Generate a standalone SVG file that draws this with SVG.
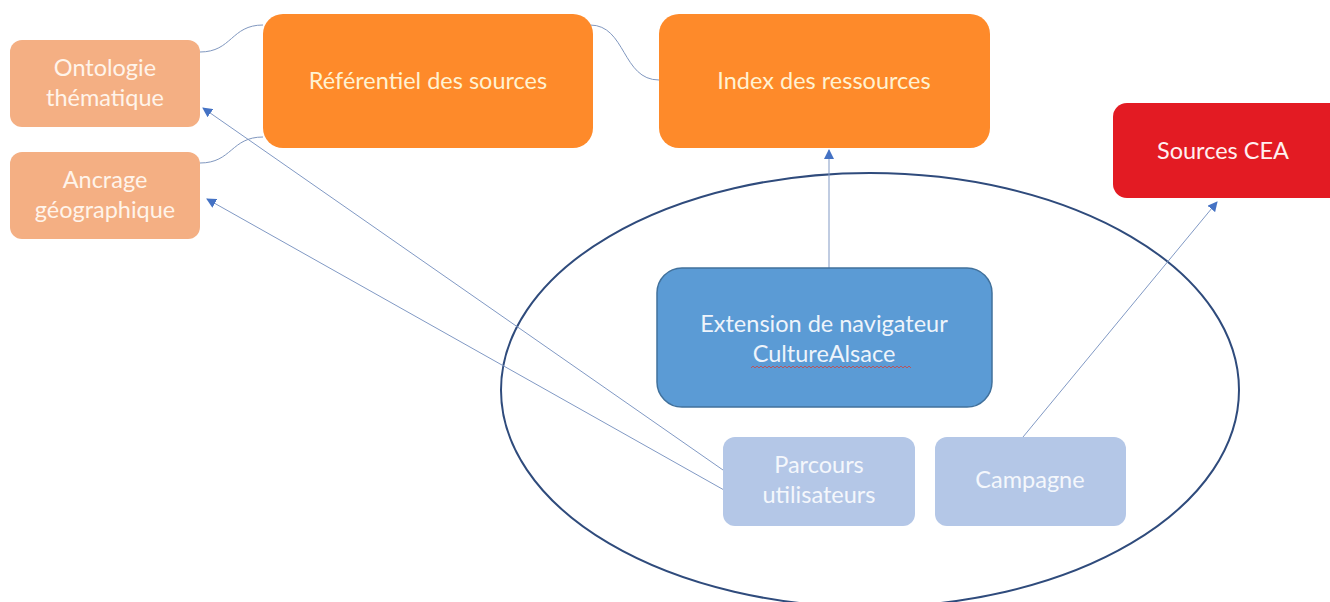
<svg xmlns="http://www.w3.org/2000/svg" width="1330" height="602" viewBox="0 0 1330 602">
<style>
  text { font-family: Lato, "Open Sans", "Liberation Sans", sans-serif; font-size: 23.5px; text-anchor: middle; }
  .lo { fill: #F4AF83; }
  .lo-t { fill: #FFF4EA; }
  .or { fill: #FE8A2A; }
  .or-t { fill: #FFF2D2; }
  .red { fill: #E31B23; }
  .red-t { fill: #FFF0F0; }
  .bl { fill: #5B9BD5; stroke: #41719C; stroke-width: 1.5; }
  .bl-t { fill: #EEF4FB; }
  .lb { fill: #B4C7E7; }
  .lb-t { fill: #F4F7FC; }
  .curve { fill: none; stroke: #8097BF; stroke-width: 1; }
  .arrow { fill: none; stroke: #8199C4; stroke-width: 1; marker-end: url(#ah); }
</style>
<defs>
  <marker id="ah" viewBox="0 0 10 10" refX="9" refY="5" markerWidth="10" markerHeight="10" markerUnits="userSpaceOnUse" orient="auto">
    <path d="M0,0 L10,5 L0,10 z" fill="#4472C4"/>
  </marker>
</defs>

<g id="ellipse">
  <ellipse cx="870" cy="390" rx="369" ry="217" fill="none" stroke="#2F4B7C" stroke-width="2"/>
</g>

<g id="connectors">
  <path class="curve" d="M200,52 C232,52 231,25 263,25"/>
  <path class="curve" d="M200,163 C232,163 231,137 263,137"/>
  <path class="curve" d="M590,25 C626,25 622,80 659,80"/>
  <line class="arrow" x1="829" y1="268" x2="829" y2="150"/>
  <line class="arrow" x1="723" y1="470" x2="203" y2="108"/>
  <line class="arrow" x1="724" y1="490" x2="207" y2="199"/>
  <line class="arrow" x1="1023" y1="437" x2="1217" y2="202"/>
</g>

<g id="ontologie">
  <rect class="lo" x="10" y="40" width="190" height="87" rx="12"/>
  <text class="lo-t" x="105" y="76">Ontologie</text>
  <text class="lo-t" x="105" y="106">thématique</text>
</g>

<g id="ancrage">
  <rect class="lo" x="10" y="152" width="190" height="87" rx="12"/>
  <text class="lo-t" x="105" y="188">Ancrage</text>
  <text class="lo-t" x="105" y="218">géographique</text>
</g>

<g id="referentiel">
  <rect class="or" x="263" y="14" width="330" height="134" rx="20"/>
  <text class="or-t" x="428" y="89">Référentiel des sources</text>
</g>

<g id="index">
  <rect class="or" x="659" y="14" width="331" height="134" rx="20"/>
  <text class="or-t" x="824" y="89">Index des ressources</text>
</g>

<g id="sources-cea">
  <rect class="red" x="1113" y="103" width="230" height="95" rx="14"/>
  <text class="red-t" x="1223" y="159">Sources CEA</text>
</g>

<g id="extension">
  <rect class="bl" x="657" y="268" width="335" height="139" rx="25"/>
  <text class="bl-t" x="824" y="332">Extension de navigateur</text>
  <text class="bl-t" x="824" y="362">CultureAlsace</text>
  <path d="M751,368 l2,-2 l2,2 l2,-2 l2,2 l2,-2 l2,2 l2,-2 l2,2 l2,-2 l2,2 l2,-2 l2,2 l2,-2 l2,2 l2,-2 l2,2 l2,-2 l2,2 l2,-2 l2,2 l2,-2 l2,2 l2,-2 l2,2 l2,-2 l2,2 l2,-2 l2,2 l2,-2 l2,2 l2,-2 l2,2 l2,-2 l2,2 l2,-2 l2,2 l2,-2 l2,2 l2,-2 l2,2 l2,-2 l2,2 l2,-2 l2,2 l2,-2 l2,2 l2,-2 l2,2 l2,-2 l2,2 l2,-2 l2,2 l2,-2 l2,2 l2,-2 l2,2 l2,-2 l2,2 l2,-2 l2,2 l2,-2 l2,2 l2,-2 l2,2 l2,-2 l2,2 l2,-2 l2,2 l2,-2 l2,2 l2,-2 l2,2 l2,-2 l2,2 l2,-2 l2,2 l2,-2 l2,2 l2,-2 l2,2" fill="none" stroke="#D0433F" stroke-width="0.8"/>
</g>

<g id="parcours">
  <rect class="lb" x="723" y="437" width="192" height="89" rx="12"/>
  <text class="lb-t" x="819" y="473">Parcours</text>
  <text class="lb-t" x="819" y="503">utilisateurs</text>
</g>

<g id="campagne">
  <rect class="lb" x="935" y="437" width="191" height="89" rx="12"/>
  <text class="lb-t" x="1030" y="488">Campagne</text>
</g>
</svg>
